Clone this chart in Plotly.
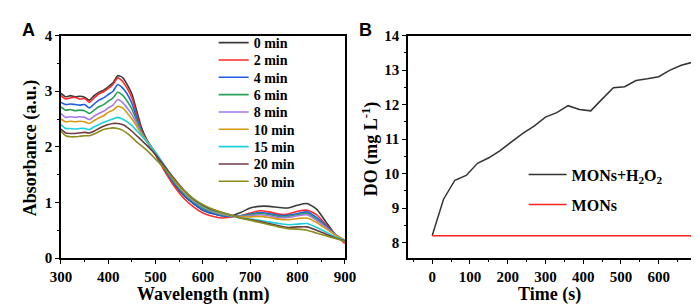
import plotly.graph_objects as go

# ---------------- Panel A data ----------------
wavelength = [300, 310, 320, 330, 340, 350, 360, 370, 380, 390, 400, 410, 420, 430, 440, 450, 460, 470, 480,
              500, 520, 540, 560, 580, 600, 620, 640, 660, 680, 700, 720, 740, 760, 780, 800, 820, 840, 860, 880, 900]

abs_0 = [2.96, 2.90, 2.92, 2.90, 2.91, 2.89, 2.84, 2.92, 2.98, 3.02, 3.08, 3.15, 3.28, 3.25, 3.12, 2.95, 2.65, 2.35, 2.15,
         1.88, 1.58, 1.32, 1.12, 0.98, 0.86, 0.80, 0.76, 0.76, 0.82, 0.90, 0.93, 0.93, 0.91, 0.90, 0.95, 0.98, 0.88, 0.65, 0.42, 0.30]
abs_2 = [2.92, 2.86, 2.88, 2.89, 2.86, 2.87, 2.80, 2.88, 2.95, 2.99, 3.05, 3.12, 3.24, 3.18, 3.05, 2.88, 2.58, 2.30, 2.12,
         1.85, 1.55, 1.28, 1.07, 0.92, 0.81, 0.75, 0.72, 0.74, 0.76, 0.81, 0.85, 0.83, 0.79, 0.79, 0.84, 0.86, 0.78, 0.60, 0.42, 0.26]
abs_4 = [2.80, 2.76, 2.77, 2.76, 2.75, 2.76, 2.70, 2.77, 2.84, 2.88, 2.94, 3.00, 3.12, 3.06, 2.95, 2.78, 2.52, 2.28, 2.12,
         1.86, 1.58, 1.33, 1.13, 0.98, 0.87, 0.80, 0.76, 0.75, 0.76, 0.79, 0.82, 0.80, 0.77, 0.77, 0.80, 0.83, 0.73, 0.58, 0.42, 0.30]
abs_6 = [2.72, 2.66, 2.67, 2.65, 2.66, 2.65, 2.60, 2.66, 2.72, 2.76, 2.82, 2.88, 2.98, 2.93, 2.82, 2.68, 2.47, 2.27, 2.12,
         1.88, 1.60, 1.36, 1.16, 1.01, 0.90, 0.83, 0.78, 0.76, 0.76, 0.78, 0.80, 0.78, 0.75, 0.75, 0.78, 0.80, 0.70, 0.56, 0.42, 0.32]
abs_8 = [2.60, 2.53, 2.54, 2.53, 2.54, 2.53, 2.49, 2.55, 2.60, 2.64, 2.70, 2.75, 2.85, 2.80, 2.70, 2.58, 2.42, 2.25, 2.12,
         1.89, 1.62, 1.38, 1.18, 1.03, 0.92, 0.84, 0.79, 0.76, 0.75, 0.76, 0.78, 0.76, 0.73, 0.73, 0.76, 0.78, 0.68, 0.55, 0.42, 0.32]
abs_10 = [2.50, 2.45, 2.46, 2.45, 2.46, 2.45, 2.42, 2.47, 2.52, 2.56, 2.62, 2.66, 2.73, 2.70, 2.61, 2.50, 2.37, 2.23, 2.12,
          1.90, 1.63, 1.39, 1.19, 1.04, 0.93, 0.85, 0.80, 0.76, 0.74, 0.74, 0.75, 0.73, 0.70, 0.69, 0.71, 0.72, 0.64, 0.53, 0.41, 0.32]
abs_15 = [2.40, 2.33, 2.33, 2.32, 2.33, 2.33, 2.31, 2.36, 2.40, 2.44, 2.47, 2.50, 2.53, 2.50, 2.45, 2.38, 2.29, 2.20, 2.10,
          1.90, 1.65, 1.41, 1.21, 1.05, 0.94, 0.86, 0.81, 0.76, 0.72, 0.70, 0.68, 0.65, 0.62, 0.60, 0.61, 0.62, 0.55, 0.47, 0.38, 0.32]
abs_20 = [2.32, 2.25, 2.24, 2.24, 2.25, 2.26, 2.25, 2.28, 2.33, 2.37, 2.40, 2.42, 2.42, 2.40, 2.35, 2.28, 2.20, 2.12, 2.04,
          1.86, 1.64, 1.42, 1.22, 1.06, 0.95, 0.87, 0.82, 0.77, 0.72, 0.69, 0.66, 0.62, 0.58, 0.55, 0.56, 0.56, 0.50, 0.43, 0.36, 0.31]
abs_30 = [2.28, 2.20, 2.18, 2.18, 2.19, 2.20, 2.20, 2.23, 2.27, 2.31, 2.33, 2.34, 2.33, 2.30, 2.24, 2.17, 2.09, 2.02, 1.95,
          1.78, 1.60, 1.40, 1.22, 1.07, 0.96, 0.88, 0.82, 0.77, 0.72, 0.68, 0.64, 0.60, 0.56, 0.53, 0.52, 0.50, 0.45, 0.40, 0.35, 0.30]

series_labels_a = ["0 min", "2 min", "4 min", "6 min", "8 min", "10 min", "15 min", "20 min", "30 min"]
series_a = [abs_0, abs_2, abs_4, abs_6, abs_8, abs_10, abs_15, abs_20, abs_30]
colors_a = ["#3a3a3a", "#ff2a2a", "#1f5fe6", "#26a05a", "#a678ea", "#d49a12", "#18d2dc", "#6e3c3c", "#8c8c1e"]

# ---------------- Panel B data ----------------
time_s = [0, 30, 60, 90, 120, 150, 180, 210, 240, 270, 300, 330, 360, 390, 420, 450, 480, 510, 540, 570, 600, 630, 660, 690]
do_mons_h2o2 = [8.21, 9.26, 9.81, 9.95, 10.30, 10.46, 10.67, 10.93, 11.17, 11.38, 11.64, 11.77, 11.97, 11.86, 11.82,
                12.16, 12.49, 12.52, 12.70, 12.75, 12.81, 13.00, 13.14, 13.23]
do_mons = [8.2] * len(time_s)
series_labels_b = ["MONs+H<sub>2</sub>O<sub>2</sub>", "MONs"]

W, H = 699, 304
def px(x):
    return x / W
def py(y):
    return 1 - y / H

FONT = "Liberation Serif"
tickfont = dict(family=FONT, size=15, color="black", weight="bold")

fig = go.Figure()
legend_layout = {}
# panel A legend rows (one single-entry legend per row for exact row spacing)
row_y_a = [28.5 + 18.3 * i for i in range(9)]
for i, (lab, vals, col) in enumerate(zip(series_labels_a, series_a, colors_a)):
    lname = "legend" if i == 0 else f"legend{i + 1}"
    fig.add_trace(go.Scatter(x=wavelength, y=vals, mode="lines", name=lab,
                             line=dict(color=col, width=1.6, shape="spline", smoothing=0.6),
                             xaxis="x", yaxis="y", legend=lname))
    legend_layout[lname] = dict(x=px(201), y=py(row_y_a[i]), xanchor="left", yanchor="middle",
                                bgcolor="rgba(0,0,0,0)", borderwidth=0,
                                font=dict(family=FONT, size=14, color="black", weight="bold"))

row_y_b = [167.5, 199.0]
colors_b = ["#333333", "#ff2020"]
for j, (lab, vals, col) in enumerate(zip(series_labels_b, [do_mons_h2o2, do_mons], colors_b)):
    lname = f"legend{10 + j}"
    fig.add_trace(go.Scatter(x=time_s, y=vals, mode="lines", name=lab,
                             line=dict(color=col, width=1.5), xaxis="x2", yaxis="y2", legend=lname))
    legend_layout[lname] = dict(x=px(521), y=py(row_y_b[j]), xanchor="left", yanchor="middle",
                                bgcolor="rgba(0,0,0,0)", borderwidth=0, itemwidth=38,
                                font=dict(family=FONT, size=16, color="black", weight="bold"))

axis_common = dict(showline=True, linecolor="black", linewidth=1.5, mirror=True, showgrid=False, zeroline=False,
                   ticks="outside", ticklen=4, tickwidth=1.3, tickcolor="black", tickfont=tickfont)

fig.update_layout(
    width=W, height=H, margin=dict(l=0, r=0, t=0, b=0),
    paper_bgcolor="white", plot_bgcolor="white",
    xaxis=dict(domain=[px(43.3), px(336.5)], range=[300, 900], dtick=100, tick0=300, anchor="y",
               minor=dict(ticks="outside", ticklen=2.5, dtick=50, tick0=300, tickcolor="black"), **axis_common),
    yaxis=dict(domain=[py(255.5), py(20.7)], range=[0, 4], dtick=1, anchor="x",
               minor=dict(ticks="outside", ticklen=2.5, dtick=0.5, tickcolor="black"), **axis_common),
    xaxis2=dict(domain=[px(401.7), px(696.7)], range=[-64, 693], dtick=100, tick0=0, anchor="y2",
                minor=dict(ticks="outside", ticklen=2.5, dtick=50, tick0=0, tickcolor="black"), **axis_common),
    yaxis2=dict(domain=[py(255.5), py(20.7)], range=[7.555, 14], dtick=1, anchor="x2",
                minor=dict(ticks="outside", ticklen=2.5, dtick=0.5, tickcolor="black"), **axis_common),
    showlegend=True,
    **legend_layout,
)

ann_font = dict(family=FONT, size=18, color="black", weight="bold")
fig.add_annotation(text="Wavelength (nm)", x=px(190), y=py(294), xref="paper", yref="paper",
                   showarrow=False, font=ann_font, xanchor="center", yanchor="middle")
fig.add_annotation(text="Absorbance (a.u.)", x=px(12), y=py(139), xref="paper", yref="paper",
                   showarrow=False, font=ann_font, textangle=-90, xanchor="center", yanchor="middle")
fig.add_annotation(text="Time (s)", x=px(548), y=py(294), xref="paper", yref="paper",
                   showarrow=False, font=ann_font, xanchor="center", yanchor="middle")
fig.add_annotation(text="DO (mg L<sup>-1</sup>)", x=px(363), y=py(140), xref="paper", yref="paper",
                   showarrow=False, font=ann_font, textangle=-90, xanchor="center", yanchor="middle")
panel_font = dict(family="Liberation Sans", size=18, color="black", weight="bold")
fig.add_annotation(text="A", x=px(1), y=py(2), xref="paper", yref="paper", showarrow=False,
                   font=panel_font, xanchor="left", yanchor="top")
fig.add_annotation(text="B", x=px(349), y=py(2), xref="paper", yref="paper", showarrow=False,
                   font=panel_font, xanchor="left", yanchor="top")

fig.write_html("out.html")
